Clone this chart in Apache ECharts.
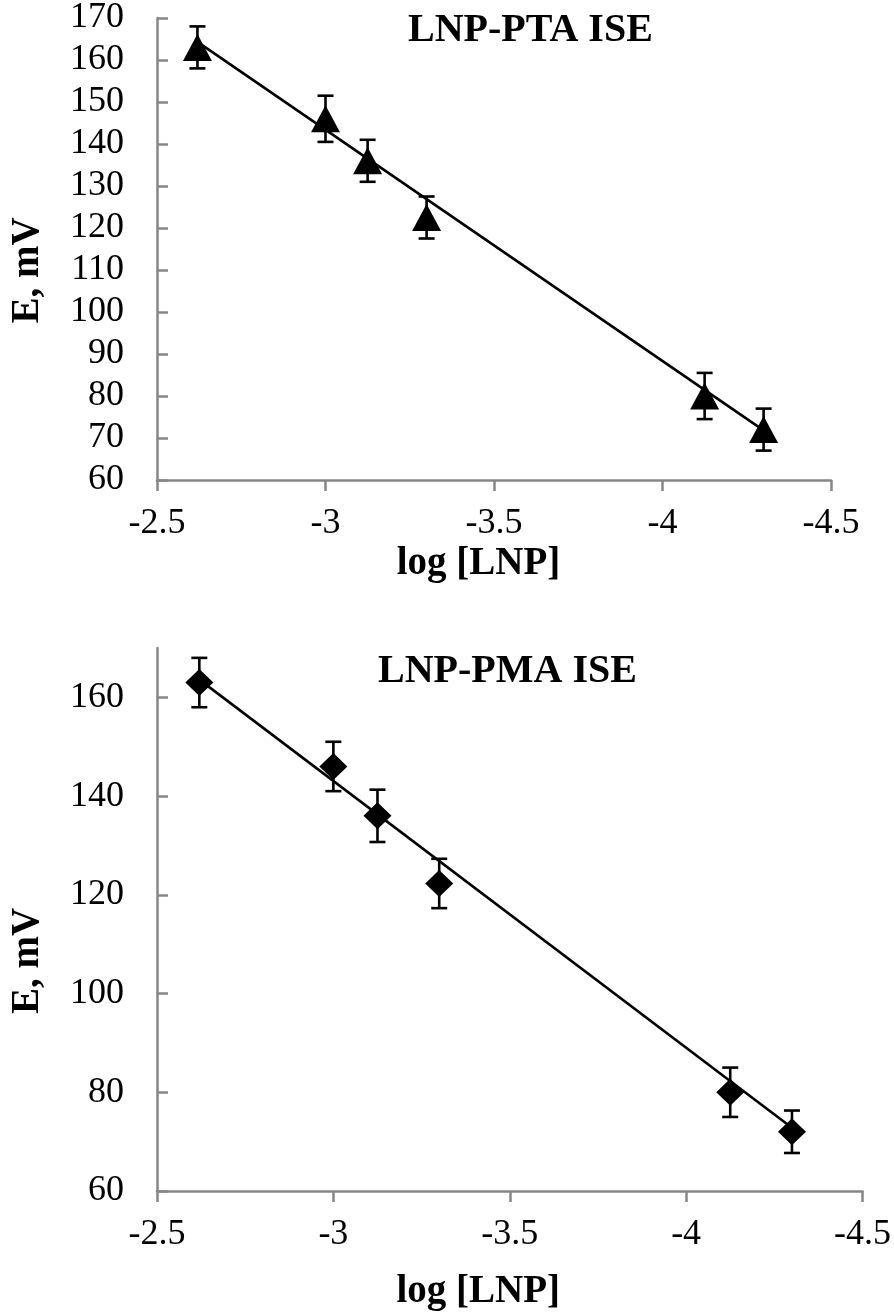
<!DOCTYPE html>
<html>
<head>
<meta charset="utf-8">
<script src="https://cdn.jsdelivr.net/npm/echarts@6/dist/echarts.min.js"></script>
<style>
html,body{margin:0;padding:0;background:#fff;}
#chart{width:894px;height:1314px;}
</style>
</head>
<body>
<div id="chart"></div>
<script>
// ---- data ----
const logLNP = [-2.62, -3.0, -3.125, -3.3, -4.125, -4.3];

const ptaE   = [163, 146, 136, 122.5, 80, 72];
const ptaErr = [5, 5.5, 5, 5, 5.5, 5];
const ptaTrend = [[-2.62, 164.3], [-4.3, 71.8]];

const pmaE   = [163, 146, 136, 122.3, 80, 72];
const pmaErr = [5, 5, 5.3, 5, 5, 4.3];
const pmaTrend = [[-2.62, 163.6], [-4.3, 72.8]];

const xTicks = [-2.5, -3, -3.5, -4, -4.5];
const yTicksTop = [60, 70, 80, 90, 100, 110, 120, 130, 140, 150, 160, 170];
const yTicksBottom = [60, 80, 100, 120, 140, 160];

const titles = ['LNP-PTA ISE', 'LNP-PMA ISE'];
const xName = 'log [LNP]';
const yName = 'E, mV';

// ---- styling ----
const FONT = 'Liberation Serif';
const AXIS_COLOR = '#878787';

function errData(xs, ys, es) {
  return xs.map((x, i) => [x, ys[i] - es[i], ys[i] + es[i]]);
}
function pts(xs, ys) { return xs.map((x, i) => [x, ys[i]]); }

function errorBarSeries(idx, data) {
  return {
    type: 'custom', xAxisIndex: idx, yAxisIndex: idx, z: 3,
    data: data,
    renderItem: function (params, api) {
      const x = api.value(0);
      const lo = api.coord([x, api.value(1)]);
      const hi = api.coord([x, api.value(2)]);
      const hw = 8;
      const st = { stroke: '#000', lineWidth: 2.6 };
      return {
        type: 'group',
        children: [
          { type: 'line', shape: { x1: lo[0], y1: lo[1], x2: hi[0], y2: hi[1] }, style: st },
          { type: 'line', shape: { x1: lo[0] - hw, y1: lo[1], x2: lo[0] + hw, y2: lo[1] }, style: st },
          { type: 'line', shape: { x1: hi[0] - hw, y1: hi[1], x2: hi[0] + hw, y2: hi[1] }, style: st }
        ]
      };
    }
  };
}

function xAxisCfg(idx, namePad, nameGap) {
  return {
    type: 'value', gridIndex: idx, min: -4.5, max: -2.5, interval: 0.5, inverse: true,
    name: xName, nameLocation: 'middle', nameGap: nameGap,
    nameTextStyle: { fontFamily: FONT, fontWeight: 'bold', fontSize: 39, color: '#000', padding: namePad },
    axisLine: { onZero: false, lineStyle: { color: AXIS_COLOR, width: 2.5 } },
    axisTick: { show: true, inside: false, length: 11, lineStyle: { color: AXIS_COLOR, width: 2.5 }, customValues: xTicks },
    axisLabel: { fontFamily: FONT, fontSize: 36, color: '#000', margin: 26, customValues: xTicks,
      formatter: v => String(v) },
    splitLine: { show: false }
  };
}

function yAxisCfg(idx, ticks, namePad) {
  return {
    type: 'value', gridIndex: idx, min: 60, max: 170, interval: 10,
    name: yName, nameLocation: 'middle', nameGap: 110,
    nameTextStyle: { fontFamily: FONT, fontWeight: 'bold', fontSize: 39, color: '#000', padding: namePad },
    axisLine: { show: true, onZero: false, lineStyle: { color: AXIS_COLOR, width: 2.5 } },
    axisTick: { show: true, inside: true, length: 11, lineStyle: { color: AXIS_COLOR, width: 2.5 }, customValues: ticks },
    axisLabel: { fontFamily: FONT, fontSize: 36, color: '#000', margin: 33, customValues: ticks },
    splitLine: { show: false }
  };
}

const chart = echarts.init(document.getElementById('chart'), null, { renderer: 'canvas' });
chart.setOption({
  backgroundColor: '#fff',
  animation: false,
  title: [
    { text: titles[0], left: 408, top: 11, padding: 0,
      textStyle: { fontFamily: FONT, fontWeight: 'bold', fontSize: 40, color: '#000' } },
    { text: titles[1], left: 378, top: 652, padding: 0,
      textStyle: { fontFamily: FONT, fontWeight: 'bold', fontSize: 40, color: '#000' } }
  ],
  grid: [
    { left: 152, top: 14, width: 679, height: 466, containLabel: false },
    { left: 146, top: 648, width: 719, height: 543, containLabel: false }
  ],
  xAxis: [xAxisCfg(0, [0, 31, 0, 0], 64), xAxisCfg(1, [0, 63, 0, 0], 81)],
  yAxis: [yAxisCfg(0, yTicksTop, [0, 43, 0, 0]), yAxisCfg(1, yTicksBottom, [0, 83, 0, 0])],
  series: [
    { type: 'line', xAxisIndex: 0, yAxisIndex: 0, data: ptaTrend, showSymbol: false, symbol: 'none',
      lineStyle: { color: '#000', width: 2.6 }, z: 2 },
    errorBarSeries(0, errData(logLNP, ptaE, ptaErr)),
    { type: 'scatter', xAxisIndex: 0, yAxisIndex: 0, data: pts(logLNP, ptaE), symbol: 'triangle',
      symbolSize: [29, 27], itemStyle: { color: '#000', opacity: 1 }, z: 4 },

    { type: 'line', xAxisIndex: 1, yAxisIndex: 1, data: pmaTrend, showSymbol: false, symbol: 'none',
      lineStyle: { color: '#000', width: 2.6 }, z: 2 },
    errorBarSeries(1, errData(logLNP, pmaE, pmaErr)),
    { type: 'scatter', xAxisIndex: 1, yAxisIndex: 1, data: pts(logLNP, pmaE), symbol: 'diamond',
      symbolSize: [28, 27], itemStyle: { color: '#000', opacity: 1 }, z: 4 }
  ]
});
</script>
</body>
</html>
